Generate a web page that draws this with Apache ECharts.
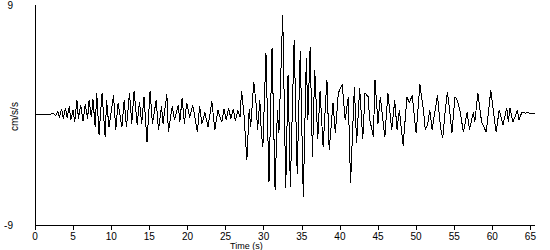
<!DOCTYPE html>
<html>
<head>
<meta charset="utf-8">
<script src="https://cdn.jsdelivr.net/npm/echarts@6/dist/echarts.min.js"></script>
<style>
html,body{margin:0;padding:0;background:#fff;}
#chart{width:550px;height:250px;}
#chart svg path{shape-rendering:crispEdges;}
</style>
</head>
<body>
<div id="chart"></div>
<script>
// Time (s)
var times = [
0,0.5,1.0,1.5,2.0,2.4,2.7,3.0,3.2,3.5,3.7,4.0,4.2,4.5,4.7,5.0,5.2,5.5,5.7,6.0,6.3,6.6,6.9,7.1,7.4,7.6,7.9,8.1,8.4,8.8,9.2,9.4,9.7,10.3,10.6,10.9,11.4,11.7,12.0,12.4,12.7,13.0,13.4,13.7,14.0,14.3,14.7,15.1,15.4,15.9,16.2,16.6,16.8,17.3,17.5,18.0,18.3,18.8,19.0,19.3,19.6,19.9,20.3,20.7,21.3,21.6,21.9,22.3,22.7,23.2,23.6,24.0,24.5,24.8,25.1,25.4,25.7,26.0,26.3,26.6,26.9,27.1,27.4,27.8,28.1,28.3,28.7,29.0,29.2,29.5,29.7,29.9,30.3,30.7,31.1,31.5,31.8,32.0,32.5,32.9,33.2,33.5,34.0,34.4,34.8,35.2,35.6,35.8,36.1,36.4,36.7,37.1,37.4,37.8,38.3,38.6,39.1,39.4,39.8,40.3,40.7,41.1,41.4,41.9,42.2,42.6,43.0,43.3,43.7,43.9,44.4,44.6,45.0,45.3,45.9,46.3,46.8,47.2,47.5,47.8,48.3,48.8,49.1,49.5,50.0,50.5,51.0,51.2,51.5,51.8,52.1,52.8,53.2,53.5,53.8,54.1,54.4,54.7,55.1,55.4,55.8,56.2,56.7,57.0,57.5,57.7,58.1,58.6,59.2,59.8,60.2,60.5,60.9,61.4,61.9,62.1,62.3,62.7,63.3,63.5,63.9,64.3,64.7,65.0,65.3,65.6
];
// Acceleration (cm/s/s)
var accel = [
0,0.05,0.02,0.08,0.05,0.15,-0.05,0.3,-0.2,0.5,-0.3,0.6,-0.2,0.7,-0.4,0.4,-0.6,1.2,-0.3,0.8,-0.5,0.9,-0.3,1.2,-0.2,1.3,-1.0,1.8,-1.6,1.8,-1.8,1.2,-1.0,1.6,-1.2,1.0,-1.0,1.2,-1.0,1.8,-0.7,2.0,-0.8,1.1,-0.7,1.5,-2.2,2.0,-0.7,1.2,-1.2,0.7,-0.7,1.7,-1.4,0.7,-0.4,0.8,-0.6,1.4,-0.7,1.0,-0.2,0.8,-1.4,0.7,-0.7,0.2,-1.0,1.1,-1.2,0.4,-0.6,0.5,-0.4,0.6,-0.3,0.5,-0.5,0.4,-0.2,2.0,0.2,-3.7,0.5,-1.0,2.7,1.0,-1.2,1.2,-1.5,-2.6,5.1,-5.5,5.5,-6.1,0.4,-1.5,8.2,-6.0,3.3,-5.9,6.1,-4.8,5.2,-6.7,4.7,-0.4,5.6,-3.4,3.7,-2.0,2.0,-2.6,2.9,-2.9,1.0,-1.5,1.8,2.5,-0.4,1.5,-5.6,2.3,-2.3,2.2,-2.0,1.8,1.5,-0.3,-1.8,2.9,-0.7,1.5,-1.8,1.8,-1.2,1.2,-1.2,0.4,-2.5,1.5,1.0,1.6,-1.5,2.5,0.2,-1.2,-0.8,0.4,-1.2,1.6,-1.0,-1.9,0.2,1.9,0.4,-1.5,1.5,1.2,0.2,-1.4,0.2,-1.2,0.2,-0.6,1.8,-0.6,-1.4,2.0,0.0,-1.4,0.4,-0.8,0.6,-0.6,0.6,-0.6,0.4,-0.4,0.25,0.15,0.2,0.1,0.15,0.12
];
var xTicks = [0,5,10,15,20,25,30,35,40,45,50,55,60,65];
var yTicks = [-9, 9];
var xName = 'Time (s)';
var yName = 'cm/s/s';

var points = times.map(function(t, i){ return [t, accel[i]]; });

var chart = echarts.init(document.getElementById('chart'), null, {renderer:'svg'});
var font = 'Liberation Sans, Arial, sans-serif';
chart.setOption({
  animation: false,
  backgroundColor: '#ffffff',
  grid: {left: 35, right: 15, top: 5, bottom: 25, containLabel: false, outerBoundsMode: 'none'},
  xAxis: {
    type: 'value', min: 0, max: 65.6,
    axisLine: {show: true, onZero: false, lineStyle: {color: '#000', width: 1}},
    axisTick: {show: true, length: 5, lineStyle: {color: '#000'}, customValues: xTicks},
    axisLabel: {color: '#000', fontSize: 10, lineHeight: 10, fontFamily: font, margin: 6, customValues: xTicks},
    splitLine: {show: false}
  },
  yAxis: {
    type: 'value', min: -9, max: 9,
    axisLine: {show: true, onZero: false, lineStyle: {color: '#000', width: 1}},
    axisTick: {show: false},
    axisLabel: {color: '#000', fontSize: 10, fontFamily: font, margin: 22, customValues: yTicks},
    splitLine: {show: false}
  },
  graphic: [{
    type: 'text', x: 9, y: 131, rotation: Math.PI / 2,
    style: {text: yName, fill: '#000', font: '10px ' + font}
  }, {
    type: 'text', left: 230, top: 241,
    style: {text: xName, fill: '#000', font: '9px ' + font}
  }],
  series: [{
    type: 'line', data: points, showSymbol: false, symbol: 'none',
    lineStyle: {color: '#000', width: 1}, silent: true
  }]
});
</script>
</body>
</html>
